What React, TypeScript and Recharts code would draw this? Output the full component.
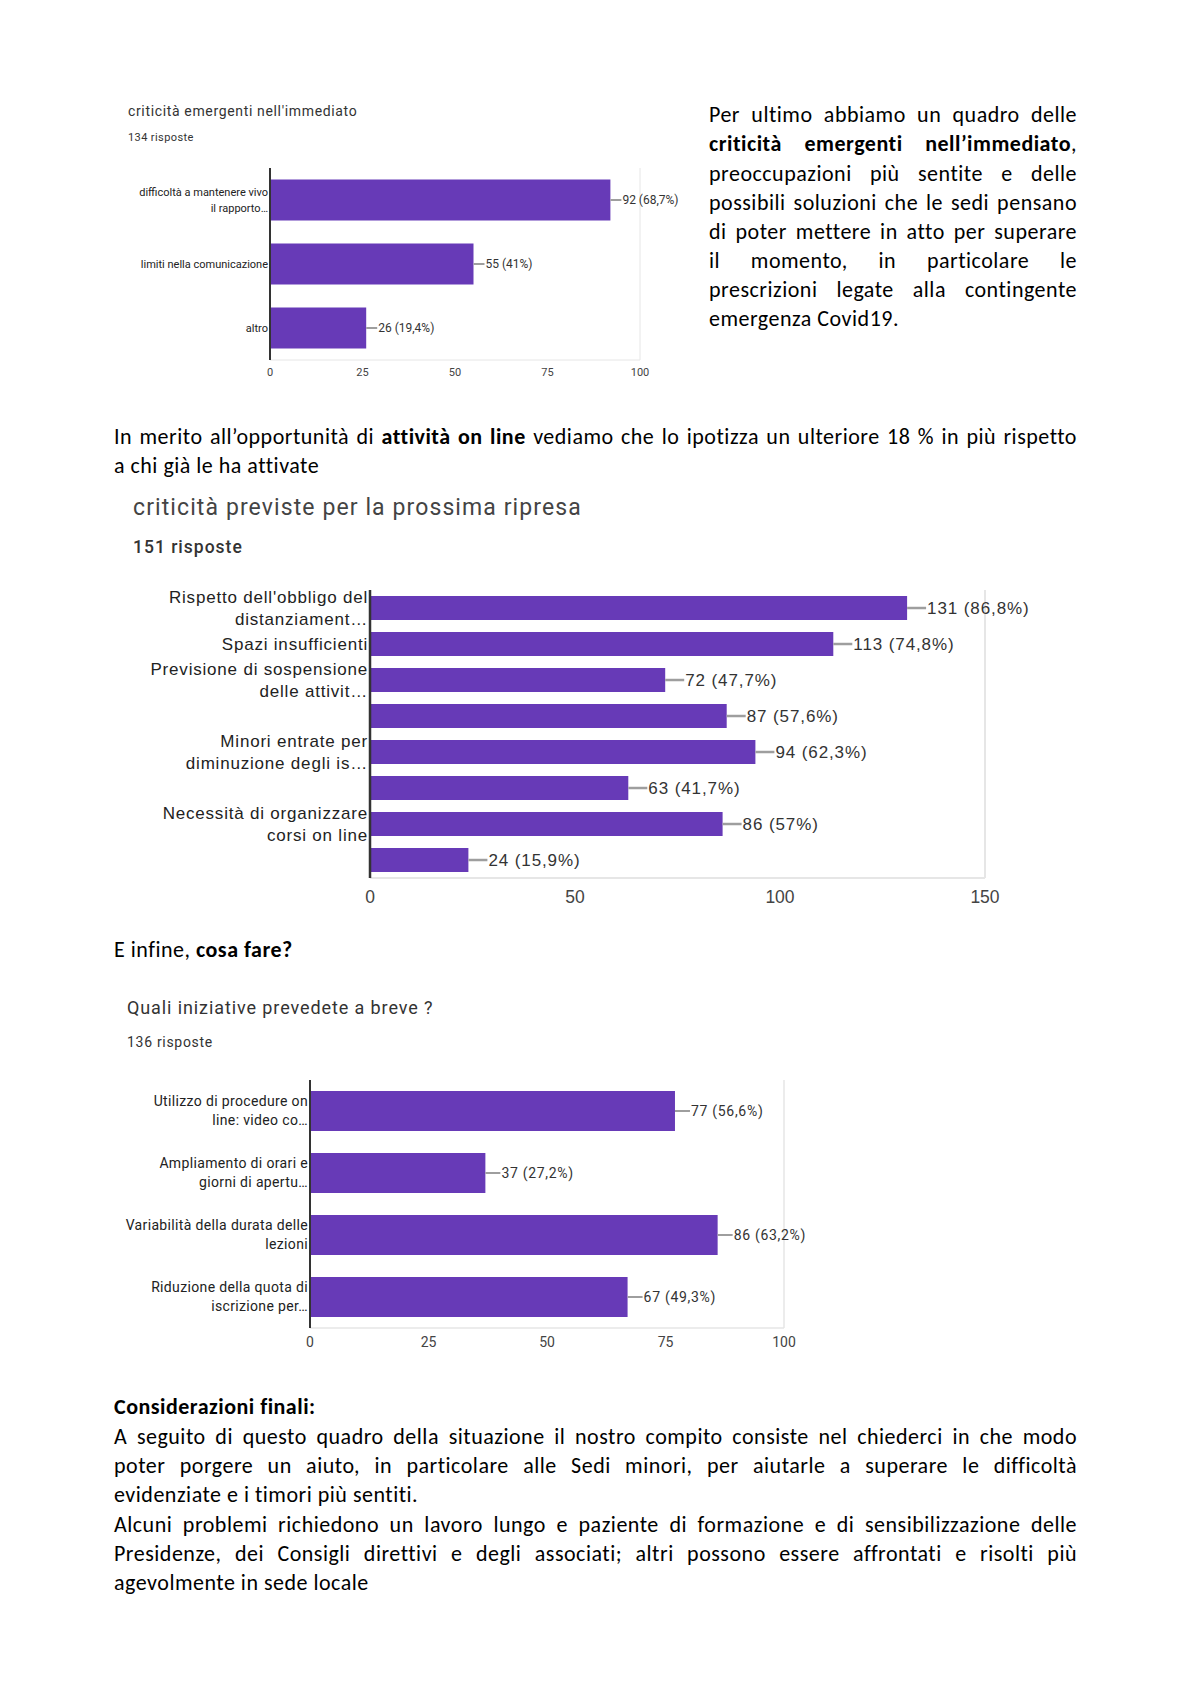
import React from 'react';
import { BarChart, Bar, XAxis, YAxis, CartesianGrid, LabelList } from 'recharts';

const PURPLE = '#673ab7';
const GRID = '#e6e6e6';
const LEADER = '#9e9e9e';
const DARK = '#333333';

// criticità emergenti nell'immediato
const immediateLabels = ['difficoltà a mantenere vivo\nil rapporto…', 'limiti nella comunicazione', 'altro'];
const immediateValues = [92, 55, 26];
const immediatePct = ['68,7%', '41%', '19,4%'];
const immediateTicks = [0, 25, 50, 75, 100];

// criticità previste per la prossima ripresa
const restartLabels = [
  "Rispetto dell'obbligo del\ndistanziament…",
  'Spazi insufficienti',
  'Previsione di sospensione\ndelle attivit…',
  '',
  'Minori entrate per\ndiminuzione degli is…',
  '',
  'Necessità di organizzare\ncorsi on line',
  '',
];
const restartValues = [131, 113, 72, 87, 94, 63, 86, 24];
const restartPct = ['86,8%', '74,8%', '47,7%', '57,6%', '62,3%', '41,7%', '57%', '15,9%'];
const restartTicks = [0, 50, 100, 150];
const restartGridTicks = [0, 25, 50, 75, 100, 125, 150];

// Quali iniziative prevedete a breve ?
const initiativeLabels = [
  'Utilizzo di procedure on\nline: video co…',
  'Ampliamento di orari e\ngiorni di apertu…',
  'Variabilità della durata delle\nlezioni',
  'Riduzione della quota di\niscrizione per…',
];
const initiativeValues = [77, 37, 86, 67];
const initiativePct = ['56,6%', '27,2%', '63,2%', '49,3%'];
const initiativeTicks = [0, 25, 50, 75, 100];

interface ChartProps {
  left: number;
  top: number;
  width: number;
  height: number;
  margin: { top: number; right: number; bottom: number; left: number };
  yWidth: number;
  xHeight: number;
  labels: string[];
  values: number[];
  pct: string[];
  ticks: number[];
  gridTicks: number[];
  font: string;
  catSize: number;
  catLine: number;
  catSpacing: number;
  tickSize: number;
  tickGap: number;
  valueSize: number;
  valueSpacing: number;
  leader: number;
  gap: string;
  axisWidth: number;
  gridWidth: number;
}

const FormChart: React.FC<ChartProps> = (p) => {
  const data = p.values.map((v, i) => ({ idx: i, value: v, text: `${v} (${p.pct[i]})` }));
  const max = p.ticks[p.ticks.length - 1];

  const CatTick = (props: any) => {
    const { x, y, payload } = props;
    const lines = (p.labels[payload.value] || '').split('\n');
    const y0 = y - ((lines.length - 1) * p.catLine) / 2 + p.catSize * 0.35;
    return (
      <text x={x} y={y0} textAnchor="end" fontSize={p.catSize} fill="#222" fontFamily={p.font} letterSpacing={p.catSpacing}>
        {lines.map((l, i) => (
          <tspan key={i} x={x} dy={i === 0 ? 0 : p.catLine}>{l}</tspan>
        ))}
      </text>
    );
  };

  const ValueLabel = (props: any) => {
    const vb = props.viewBox || {};
    const x = props.x ?? vb.x;
    const y = props.y ?? vb.y;
    const w = props.width ?? vb.width;
    const h = props.height ?? vb.height;
    const end = x + w;
    const cy = y + h / 2;
    return (
      <g>
        <line x1={end} y1={cy} x2={end + p.leader} y2={cy} stroke={LEADER} strokeWidth={p.axisWidth} />
        <text
          x={end + p.leader + 1}
          y={cy}
          dy={p.valueSize * 0.35}
          fontSize={p.valueSize}
          fill="#333"
          fontFamily={p.font}
          letterSpacing={p.valueSpacing}
        >
          {props.value}
        </text>
      </g>
    );
  };

  return (
    <div style={{ position: 'absolute', left: p.left, top: p.top }}>
      <BarChart width={p.width} height={p.height} data={data} layout="vertical" margin={p.margin} barCategoryGap={p.gap}>
        <CartesianGrid horizontal={false} stroke={GRID} strokeWidth={p.gridWidth} xAxisId="top" />
        <XAxis
          xAxisId="top"
          orientation="top"
          type="number"
          domain={[0, max]}
          ticks={p.gridTicks}
          tick={false}
          tickLine={false}
          height={0}
          axisLine={{ stroke: GRID, strokeWidth: p.gridWidth }}
        />
        <XAxis
          type="number"
          domain={[0, max]}
          ticks={p.ticks}
          height={p.xHeight}
          tickLine={false}
          tickSize={0}
          tickMargin={p.tickGap}
          axisLine={{ stroke: GRID, strokeWidth: p.gridWidth }}
          tick={{ fontSize: p.tickSize, fill: '#444', fontFamily: p.font }}
        />
        <YAxis
          type="category"
          dataKey="idx"
          width={p.yWidth}
          tickLine={false}
          tickSize={0}
          tickMargin={2}
          interval={0}
          axisLine={{ stroke: DARK, strokeWidth: p.axisWidth }}
          tick={<CatTick />}
        />
        <Bar dataKey="value" fill={PURPLE} isAnimationActive={false}>
          <LabelList dataKey="text" content={<ValueLabel />} />
        </Bar>
      </BarChart>
    </div>
  );
};

const BODY_FONT = 'Carlito, Lato, sans-serif';
const LINE = 29.3;

const Line: React.FC<{ top: number; left: number; width: number; justify?: boolean; children: React.ReactNode }> = ({ top, left, width, justify, children }) => (
  <div
    style={{
      position: 'absolute',
      top: top - LINE / 2,
      left,
      width,
      height: LINE,
      lineHeight: `${LINE}px`,
      fontFamily: BODY_FONT,
      fontSize: 22,
      letterSpacing: 0.5,
      color: '#000',
      whiteSpace: 'nowrap',
      textAlign: justify ? 'justify' : 'left',
      textAlignLast: justify ? 'justify' : 'left',
    }}
  >
    {children}
  </div>
);

const Caption: React.FC<{ top: number; left: number; size: number; spacing?: number; weight?: number; color?: string; children: React.ReactNode }> = ({ top, left, size, spacing, weight, color, children }) => (
  <div
    style={{
      position: 'absolute',
      top: top - size * 0.6,
      left,
      fontFamily: 'Roboto, Arial, sans-serif',
      fontSize: size,
      lineHeight: `${size * 1.2}px`,
      letterSpacing: spacing || 0,
      fontWeight: weight || 400,
      color: color || '#333',
      whiteSpace: 'nowrap',
    }}
  >
    {children}
  </div>
);

export default function App() {
  const R = 709;
  const RW = 368;
  const L = 114;
  const LW = 963;
  return (
    <div style={{ position: 'absolute', left: 0, top: 0, width: 1191, height: 1684, background: '#fff', overflow: 'hidden' }}>
      {/* first chart */}
      <Caption top={111} left={128} size={14} spacing={0.65}>criticità emergenti nell'immediato</Caption>
      <Caption top={138} left={128} size={11} spacing={0.4}>134 risposte</Caption>
      <FormChart
        left={110}
        top={150}
        width={590}
        height={240}
        margin={{ top: 18, right: 60, bottom: 0, left: 0 }}
        yWidth={160}
        xHeight={30}
        labels={immediateLabels}
        values={immediateValues}
        pct={immediatePct}
        ticks={immediateTicks}
        gridTicks={immediateTicks}
        font="Roboto, Arial, sans-serif"
        catSize={11}
        catLine={15.5}
        catSpacing={0}
        tickSize={11}
        tickGap={8}
        valueSize={12}
        valueSpacing={0}
        leader={11}
        gap="18%"
        axisWidth={2}
        gridWidth={1}
      />

      <Line top={115} left={R} width={RW} justify>Per ultimo abbiamo un quadro delle</Line>
      <Line top={144} left={R} width={RW} justify><b>criticità emergenti nell’immediato</b>,</Line>
      <Line top={174} left={R} width={RW} justify>preoccupazioni più sentite e delle</Line>
      <Line top={203} left={R} width={RW} justify>possibili soluzioni che le sedi pensano</Line>
      <Line top={232} left={R} width={RW} justify>di poter mettere in atto per superare</Line>
      <Line top={261} left={R} width={RW} justify>il momento, in particolare le</Line>
      <Line top={290} left={R} width={RW} justify>prescrizioni legate alla contingente</Line>
      <Line top={319} left={R} width={RW}>emergenza Covid19.</Line>

      <Line top={437} left={L} width={LW} justify>
        In merito all’opportunità di <b>attività on line</b> vediamo che lo ipotizza un ulteriore 18 % in più rispetto
      </Line>
      <Line top={466} left={L} width={LW}>a chi già le ha attivate</Line>

      {/* second chart */}
      <Caption top={508} left={133} size={23} spacing={1.1} color="#444">criticità previste per la prossima ripresa</Caption>
      <Caption top={547} left={133} size={17.5} spacing={1} weight={500} color="#333">151 risposte</Caption>
      <FormChart
        left={110}
        top={570}
        width={1050}
        height={344}
        margin={{ top: 20, right: 175, bottom: 0, left: 0 }}
        yWidth={260}
        xHeight={36}
        labels={restartLabels}
        values={restartValues}
        pct={restartPct}
        ticks={restartTicks}
        gridTicks={restartGridTicks}
        font="Arial, 'Liberation Sans', sans-serif"
        catSize={17}
        catLine={22}
        catSpacing={0.8}
        tickSize={17.5}
        tickGap={13}
        valueSize={17}
        valueSpacing={0.9}
        leader={19}
        gap="16.7%"
        axisWidth={2.5}
        gridWidth={2}
      />

      <Line top={950} left={L} width={LW}>E infine, <b>cosa fare?</b></Line>

      {/* third chart */}
      <Caption top={1008} left={127} size={18} spacing={0.9} color="#333">Quali iniziative prevedete a breve ?</Caption>
      <Caption top={1042} left={127} size={14} spacing={0.7} color="#333">136 risposte</Caption>
      <FormChart
        left={110}
        top={1060}
        width={720}
        height={298}
        margin={{ top: 20, right: 46, bottom: 0, left: 0 }}
        yWidth={200}
        xHeight={30}
        labels={initiativeLabels}
        values={initiativeValues}
        pct={initiativePct}
        ticks={initiativeTicks}
        gridTicks={initiativeTicks}
        font="Roboto, Arial, sans-serif"
        catSize={14}
        catLine={19}
        catSpacing={0.35}
        tickSize={14}
        tickGap={9}
        valueSize={14}
        valueSpacing={0.7}
        leader={15}
        gap="17.7%"
        axisWidth={2}
        gridWidth={1.5}
      />

      <Line top={1407} left={L} width={LW}><b>Considerazioni finali:</b></Line>
      <Line top={1437} left={L} width={LW} justify>A seguito di questo quadro della situazione il nostro compito consiste nel chiederci in che modo</Line>
      <Line top={1466} left={L} width={LW} justify>poter porgere un aiuto, in particolare alle Sedi minori, per aiutarle a superare le difficoltà</Line>
      <Line top={1495} left={L} width={LW}>evidenziate e i timori più sentiti.</Line>
      <Line top={1525} left={L} width={LW} justify>Alcuni problemi richiedono un lavoro lungo e paziente di formazione e di sensibilizzazione delle</Line>
      <Line top={1554} left={L} width={LW} justify>Presidenze, dei Consigli direttivi e degli associati; altri possono essere affrontati e risolti più</Line>
      <Line top={1583} left={L} width={LW}>agevolmente in sede locale</Line>
    </div>
  );
}
